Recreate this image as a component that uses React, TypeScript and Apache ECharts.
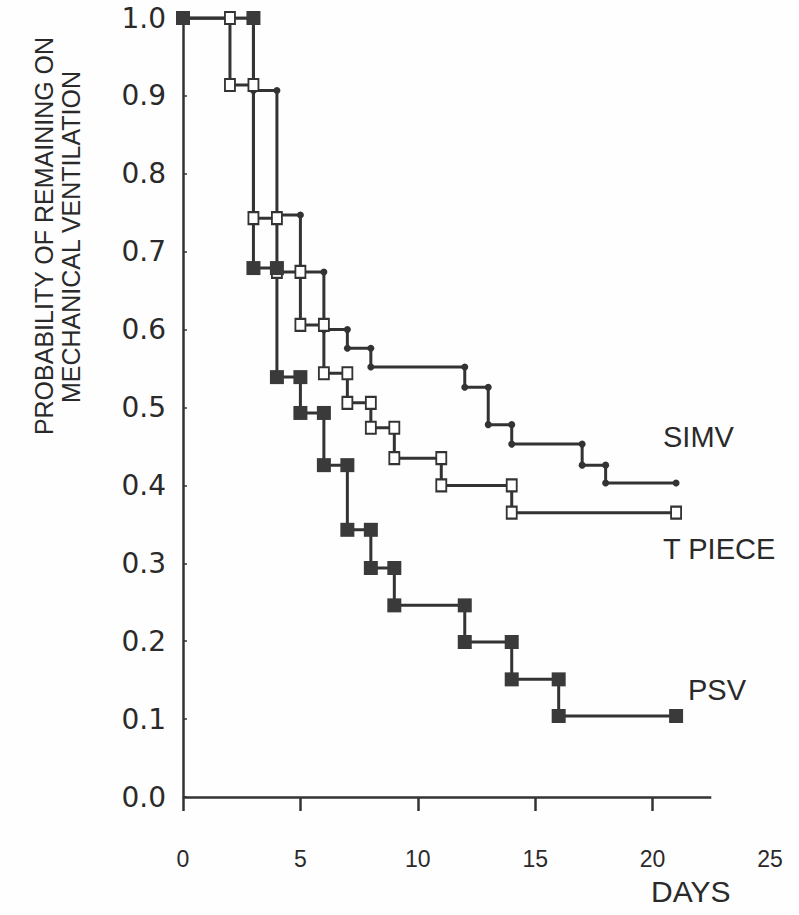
import React, { useEffect, useRef } from "react";
import * as echarts from "echarts";

// Kaplan–Meier step data: change times (days) and probability held after each time
const psvTimes = [0, 3, 4, 5, 6, 7, 8, 9, 12, 14, 16, 21];
const psvValues = [1.0, 0.679, 0.539, 0.493, 0.426, 0.343, 0.294, 0.246, 0.199, 0.151, 0.104];

const simvTimes = [0, 3, 4, 5, 6, 7, 8, 12, 13, 14, 17, 18, 21];
const simvValues = [1.0, 0.907, 0.747, 0.674, 0.6, 0.576, 0.552, 0.526, 0.478, 0.453, 0.426, 0.403];

const tpieceTimes = [0, 2, 3, 4, 5, 6, 7, 8, 9, 11, 14, 21];
const tpieceValues = [1.0, 0.914, 0.743, 0.674, 0.606, 0.544, 0.506, 0.474, 0.435, 0.4, 0.365];

const xTicks = [0, 5, 10, 15, 20];
const xLabels = [0, 5, 10, 15, 20, 25];
const xAxisEnd = 22.5;

const seriesNames = ["SIMV", "T PIECE", "PSV"];
const yTitleLines = ["PROBABILITY OF REMAINING ON", "MECHANICAL VENTILATION"];
const xTitle = "DAYS";

function steps(times: number[], values: number[]) {
  const pts: number[][] = [];
  for (let i = 0; i < values.length; i++) {
    pts.push([times[i], values[i]]);
    pts.push([times[i + 1], values[i]]);
  }
  return pts;
}

const INK = "#333333";
const TEXT = "#2a2a2a";

export default function App() {
  const ref = useRef<HTMLDivElement>(null);
  useEffect(() => {
    document.body.style.margin = "0";
    const chart = echarts.init(ref.current!, null, { renderer: "svg" });
    const lineBase = {
      type: "line" as const,
      showSymbol: true,
      animation: false,
      z: 3,
    };
    const txt = (text: string, x: number, y: number, size: number, extra: any = {}) => ({
      type: "text",
      x,
      y,
      ...extra,
      style: {
        text,
        font: `${size}px 'Liberation Sans', Arial, sans-serif`,
        fill: TEXT,
        align: extra.align || "left",
        verticalAlign: "middle",
      },
    });
    chart.setOption({
      animation: false,
      backgroundColor: "#fefefe",
      grid: { left: 183, top: 18, right: 29, bottom: 118, containLabel: false },
      xAxis: {
        type: "value",
        min: 0,
        max: 25,
        interval: 5,
        splitLine: { show: false },
        axisLine: { show: false },
        axisTick: {
          show: true,
          customValues: xTicks,
          length: 14,
          lineStyle: { color: INK, width: 2.5 },
        },
        axisLabel: {
          customValues: xLabels,
          margin: 50,
          fontSize: 23,
          color: TEXT,
          fontFamily: "Liberation Sans, Arial, sans-serif",
        },
      },
      yAxis: {
        type: "value",
        min: 0,
        max: 1,
        interval: 0.1,
        splitLine: { show: false },
        axisLine: { show: true, lineStyle: { color: INK, width: 2.5 } },
        axisTick: { show: true, inside: true, length: 4, lineStyle: { color: INK, width: 1.5 } },
        axisLabel: {
          margin: 17,
          fontSize: 28,
          color: TEXT,
          fontFamily: "DejaVu Sans, sans-serif",
          formatter: (v: number) => v.toFixed(1),
        },
      },
      series: [
        {
          ...lineBase,
          name: seriesNames[0],
          data: steps(simvTimes, simvValues),
          symbol: "circle",
          symbolSize: 7,
          lineStyle: { color: INK, width: 3 },
          itemStyle: { color: INK },
        },
        {
          ...lineBase,
          name: seriesNames[1],
          data: steps(tpieceTimes, tpieceValues),
          symbol: "emptyRect",
          symbolSize: [10, 12],
          lineStyle: { color: INK, width: 3 },
          itemStyle: { color: INK, borderWidth: 1.5 },
        },
        {
          ...lineBase,
          name: seriesNames[2],
          data: steps(psvTimes, psvValues),
          symbol: "rect",
          symbolSize: 14,
          lineStyle: { color: INK, width: 3 },
          itemStyle: { color: "#3a3a3a" },
          markLine: {
            silent: true,
            symbol: ["none", "none"],
            label: { show: false },
            lineStyle: { color: INK, width: 2.5, type: "solid" },
            data: [[{ coord: [0, 0] }, { coord: [xAxisEnd, 0] }]],
          },
        },
      ],
      graphic: [
        txt(yTitleLines[0], 44, 236, 25, { rotation: Math.PI / 2, align: "center" }),
        txt(yTitleLines[1], 71, 237, 25, { rotation: Math.PI / 2, align: "center" }),
        txt(seriesNames[0], 663, 437, 29),
        txt(seriesNames[1], 663, 549, 29),
        txt(seriesNames[2], 688, 690, 29),
        txt(xTitle, 651, 891, 30),
      ],
    });
    return () => chart.dispose();
  }, []);
  return <div ref={ref} style={{ width: 799, height: 915 }} />;
}
